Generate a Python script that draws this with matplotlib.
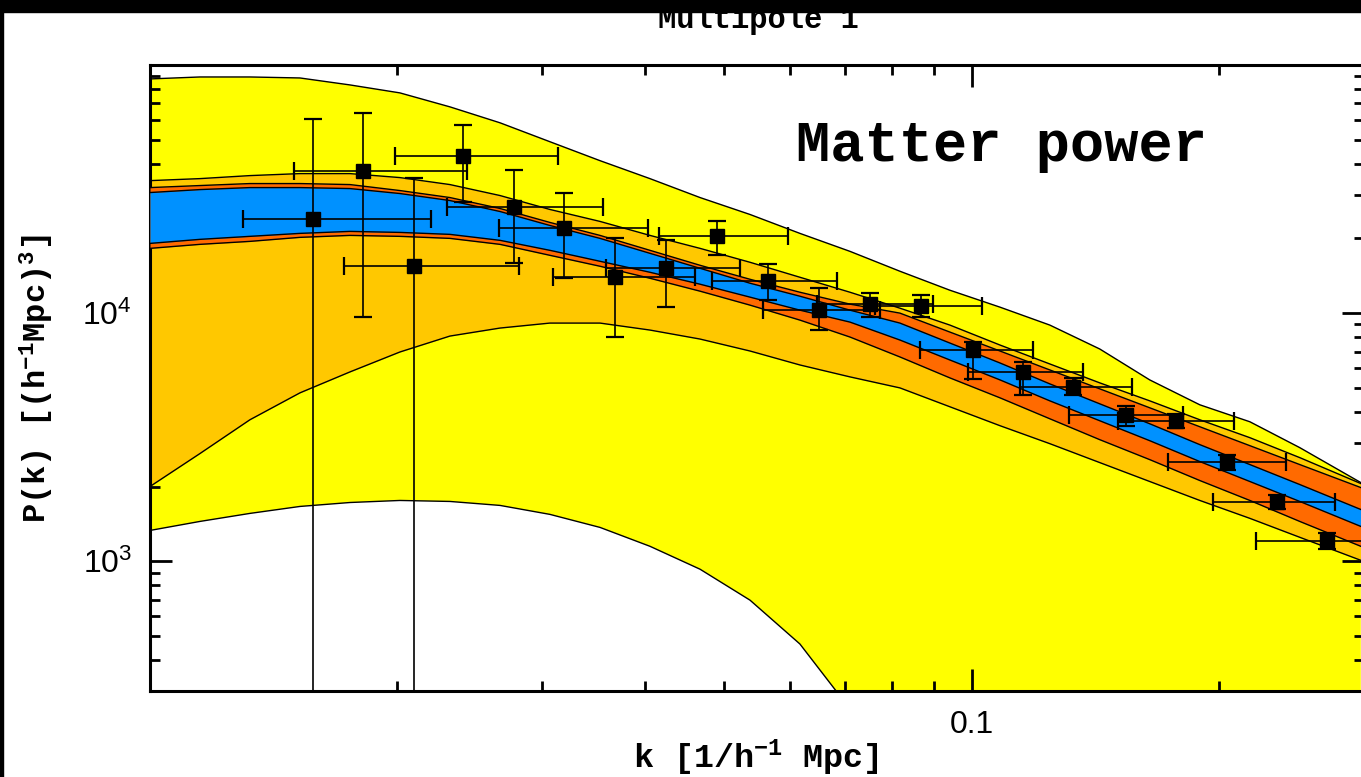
import numpy as np
import matplotlib
matplotlib.use('Agg')
import matplotlib.pyplot as plt
from matplotlib.patches import Rectangle
from matplotlib.ticker import NullFormatter

plt.rcParams['mathtext.default'] = 'regular'

MONO = ['Liberation Mono', 'DejaVu Sans Mono']
SANS = ['Liberation Sans', 'DejaVu Sans']

# k grid (h/Mpc) on which the band edges were read
k_band = [0.0100, 0.01150, 0.01323, 0.01522, 0.01751, 0.02014, 0.02317, 0.02666,
          0.03066, 0.03528, 0.04058, 0.04669, 0.05371, 0.06177, 0.07107, 0.08175,
          0.09402, 0.1082, 0.1244, 0.1431, 0.1646, 0.1894, 0.2179, 0.2506, 0.2973]

# outer (yellow) band
yellow_hi = [87880, 89490, 89490, 88670, 83120, 77200, 67810, 58490, 49070, 41160,
             34840, 29230, 24980, 20960, 17740, 14750, 12370, 10570, 8951, 7168,
             5381, 4271, 3649, 2870, 2076]
yellow_lo_k = [0.0100, 0.01150, 0.01323, 0.01522, 0.01751, 0.02014, 0.02317, 0.02666,
               0.03066, 0.03528, 0.04058, 0.04669, 0.05371, 0.06177, 0.07107, 0.08175,
               0.2973]
yellow_lo = [1331, 1447, 1559, 1663, 1725, 1758, 1742, 1679, 1545, 1369, 1149, 929,
             697, 464, 254, 110, 100]

# gold band
gold_hi = [34200, 34840, 35830, 36500, 36500, 35180, 32970, 29780, 26170, 23420,
           20570, 18240, 16030, 13950, 12140, 10470, 8951, 7437, 6240, 5235, 4431,
           3717, 3148, 2616, 2057]
gold_lo = [2001, 2716, 3717, 4771, 5795, 6972, 8083, 8706, 9118, 9118, 8546, 7862,
           7036, 6181, 5534, 4996, 4194, 3518, 2978, 2498, 2096, 1758, 1489, 1249, 1009]

# orange band
orange_hi = [32060, 32670, 33280, 33280, 32970, 31190, 29230, 26410, 23200, 20570,
             17910, 15590, 13690, 12140, 10870, 10000, 8389, 7036, 5903, 4952, 4154,
             3484, 2923, 2453, 1982]
orange_lo = [18240, 18930, 19460, 20200, 20570, 20390, 20010, 18930, 17100, 15450,
             13820, 12260, 10770, 9373, 8010, 6658, 5483, 4556, 3752, 3090, 2568,
             2115, 1758, 1447, 1149]

# blue band
blue_hi = [30620, 31470, 32060, 32060, 31770, 30340, 28430, 25680, 22560, 20010,
           17420, 15160, 13200, 11700, 10280, 9118, 7577, 6297, 5187, 4310, 3582,
           2951, 2453, 2038, 1617]
blue_lo = [19100, 19830, 20390, 20960, 21350, 21150, 20770, 19650, 17910, 16180,
           14610, 13080, 11600, 10280, 9201, 7790, 6474, 5381, 4431, 3683, 3061,
           2522, 2096, 1742, 1382]

# measured points with error bar ends
k_pts = [0.01577, 0.01817, 0.02097, 0.02401, 0.02770, 0.03186, 0.03679, 0.04244,
         0.04899, 0.05652, 0.06521, 0.07513, 0.08675, 0.1002, 0.1154, 0.1328, 0.1539,
         0.1771, 0.2041, 0.2354, 0.2701]
p_pts = [24010, 37290, 15490, 43110, 26730, 21950, 13950, 15260, 20390, 13450, 10280,
         10840, 10670, 7101, 5810, 5058, 3894, 3661, 2505, 1730, 1206]
k_lo = [0.01297, 0.01497, 0.01722, 0.01987, 0.02296, 0.02658, 0.03090, 0.03587,
        0.04161, 0.04824, 0.05563, 0.06474, 0.07621, 0.08643, 0.0989, 0.1144, 0.1313,
        0.1505, 0.1730, 0.1963, 0.2215]
k_hi = [0.02197, 0.02430, 0.02811, 0.03135, 0.03557, 0.04035, 0.04603, 0.05222,
        0.05977, 0.06857, 0.07728, 0.08965, 0.1030, 0.1187, 0.1364, 0.1567, 0.1807,
        0.2085, 0.2408, 0.2764, 0.3135]
p_lo = [100, 9637, 100, 27990, 15880, 13820, 8010, 10600, 17100, 11280, 8546, 9663,
        9663, 5417, 4686, 4686, 3495, 3431, 2341, 1617, 1117]
p_hi = [60700, 64150, 35180, 57410, 37870, 30420, 20010, 19650, 23480, 15730, 12600,
        12030, 11810, 7669, 6374, 5468, 4205, 3905, 2690, 1858, 1295]

x_major = [0.1]
x_minor = [0.02, 0.03, 0.04, 0.05, 0.06, 0.07, 0.08, 0.09, 0.2, 0.3]
y_major = [1e3, 1e4]
y_labels = [r'$10^{3}$', r'$10^{4}$']
y_minor = [400, 500, 600, 700, 800, 900, 2000, 3000, 4000, 5000, 6000, 7000, 8000,
           9000, 20000, 30000, 40000, 50000, 60000, 70000, 80000, 90000]

W, H = 1361, 777
fig = plt.figure(figsize=(W / 100, H / 100), dpi=100)
ax = fig.add_axes([150 / W, 86 / H, 1214 / W, 626 / H])
ax.set_xscale('log')
ax.set_yscale('log')

# bands
ax.fill(np.concatenate([k_band, yellow_lo_k[::-1]]),
        np.concatenate([yellow_hi, yellow_lo[::-1]]), color='#ffff00', lw=0, zorder=1)
ax.fill_between(k_band, gold_lo, gold_hi, color='#ffc800', lw=0, zorder=2)
ax.fill_between(k_band, orange_lo, orange_hi, color='#ff6a00', lw=0, zorder=3)
ax.fill_between(k_band, blue_lo, blue_hi, color='#0091ff', lw=0, zorder=4)

for curve in [yellow_hi, gold_hi, gold_lo, orange_hi, orange_lo, blue_hi, blue_lo]:
    ax.plot(k_band, curve, color='k', lw=1.0, zorder=5)
ax.plot(yellow_lo_k, yellow_lo, color='k', lw=1.0, zorder=5)

# data points
k_arr, p_arr = np.array(k_pts), np.array(p_pts)
ax.errorbar(k_arr, p_arr,
            xerr=[k_arr - np.array(k_lo), np.array(k_hi) - k_arr],
            yerr=[p_arr - np.array(p_lo), np.array(p_hi) - p_arr],
            fmt='s', color='k', ms=10.5, elinewidth=1.2, capsize=6.5, capthick=1.6,
            zorder=6)

ax.set_xlim(0.01, 0.3)
ax.set_ylim(300, 1e5)

ax.set_xticks(x_major, labels=['0.1'])
ax.set_xticks(x_minor, minor=True)
ax.set_yticks(y_major, labels=y_labels)
ax.set_yticks(y_minor, minor=True)
ax.xaxis.set_minor_formatter(NullFormatter())
ax.yaxis.set_minor_formatter(NullFormatter())
ax.tick_params(which='both', direction='in', top=True, right=True, width=2)
ax.tick_params(which='major', length=16, labelsize=23)
ax.tick_params(which='minor', length=7.5)
ax.tick_params(axis='x', pad=14)
ax.tick_params(axis='y', pad=13)
for lab in ax.get_xticklabels() + ax.get_yticklabels():
    lab.set_fontfamily(SANS)
for sp in ax.spines.values():
    sp.set_linewidth(2.2)

ax.text(0.532, 0.847, 'Matter power', transform=ax.transAxes, fontsize=41,
        fontweight='bold', family=MONO, ha='left', va='baseline', zorder=7)

fig.text(758 / W, 1 - 28 / H, 'Multipole 1', fontsize=22, fontweight='bold',
         family=MONO, ha='center', va='baseline')
fig.text(756 / W, 1 - 768 / H, r'k [1/h$^{-1}$ Mpc]', fontsize=24, fontweight='bold',
         family=MONO, ha='center', va='baseline')
fig.text(37 / W, 1 - 379 / H, r'P(k) [(h$^{-1}$Mpc)$^{3}$]', fontsize=23,
         fontweight='bold', family=MONO, rotation=90, ha='center', va='center')

# black frame remnants at the top and left of the picture
fig.add_artist(Rectangle((0, 1 - 12 / H), 1, 12 / H, transform=fig.transFigure,
                         color='k', zorder=10))
fig.add_artist(Rectangle((0, 0), 3 / W, 1, transform=fig.transFigure,
                         color='k', zorder=10))

fig.savefig('out.png', dpi=100)
